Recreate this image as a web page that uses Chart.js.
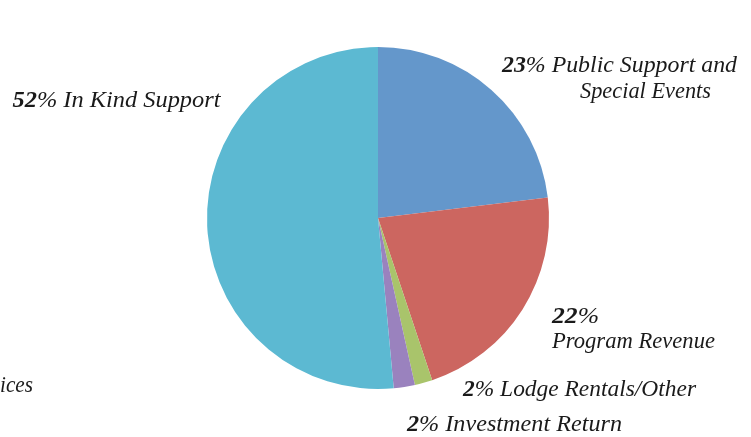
<!DOCTYPE html>
<html>
<head>
<meta charset="utf-8">
<script src="https://cdn.jsdelivr.net/npm/chart.js@4/dist/chart.umd.min.js"></script>
<style>
html,body{margin:0;padding:0;background:#fff;}
#wrap{width:751px;height:437px;position:relative;}
</style>
</head>
<body>
<div id="wrap"><canvas id="c" width="751" height="437"></canvas></div>
<script>
const categories = ['Public Support and Special Events', 'Program Revenue', 'Lodge Rentals/Other', 'Investment Return', 'In Kind Support'];
const values = [23.1, 21.8, 1.67, 2.0, 51.5];
const percentLabels = ['23%', '22%', '2%', '2%', '52%'];
const colors = ['#6497CB', '#CC6660', '#A9C46B', '#9A82BE', '#5CB9D2'];

// label lines: [line parts], positions (x, baseline y, target width)
const labelLayout = [
  { lines: [[{t:'23', b:true}, {t:'% Public Support and'}], [{t:'Special Events'}]],
    pos: [[502, 72, 235], [580, 98, 131]] },
  { lines: [[{t:'22', b:true}, {t:'%'}], [{t:'Program Revenue'}]],
    pos: [[552, 323, 47], [552, 348, 163]] },
  { lines: [[{t:'2', b:true}, {t:'% Lodge Rentals/Other'}]],
    pos: [[463, 396, 233]] },
  { lines: [[{t:'2', b:true}, {t:'% Investment Return'}]],
    pos: [[407, 431, 215]] },
  { lines: [[{t:'52', b:true}, {t:'% In Kind Support'}]],
    pos: [[12.5, 107, 208]] }
];
const extraText = [{ t: 'ices', x: 0, y: 392, w: 33 }];

const FS = 23.5;
const fam = '"Liberation Serif", serif';

const labelPlugin = {
  id: 'labels',
  afterDraw(chart) {
    const ctx = chart.ctx;
    ctx.save();
    ctx.fillStyle = '#1a1a1a';
    ctx.textBaseline = 'alphabetic';
    ctx.textAlign = 'left';
    const fontFor = (b) => (b ? 'italic bold ' : 'italic ') + FS + 'px ' + fam;
    const drawLine = (parts, x, y, target) => {
      let w = 0;
      parts.forEach(p => { ctx.font = fontFor(p.b); w += ctx.measureText(p.t).width; });
      const s = target ? target / w : 1;
      ctx.save();
      ctx.translate(x, y);
      ctx.scale(s, 1);
      let cx = 0;
      parts.forEach(p => { ctx.font = fontFor(p.b); ctx.fillText(p.t, cx, 0); cx += ctx.measureText(p.t).width; });
      ctx.restore();
    };
    labelLayout.forEach(l => {
      l.lines.forEach((parts, i) => {
        const [x, y, w] = l.pos[i];
        drawLine(parts, x, y, w);
      });
    });
    extraText.forEach(e => drawLine([{t: e.t}], e.x, e.y, e.w));
    ctx.restore();
  }
};

new Chart(document.getElementById('c'), {
  type: 'pie',
  data: {
    labels: categories,
    datasets: [{
      data: values,
      backgroundColor: colors,
      borderWidth: 0
    }]
  },
  options: {
    responsive: false,
    animation: false,
    layout: { padding: { left: 207, right: 202, top: 47, bottom: 48 } },
    plugins: { legend: { display: false }, tooltip: { enabled: false } }
  },
  plugins: [labelPlugin]
});
</script>
</body>
</html>
